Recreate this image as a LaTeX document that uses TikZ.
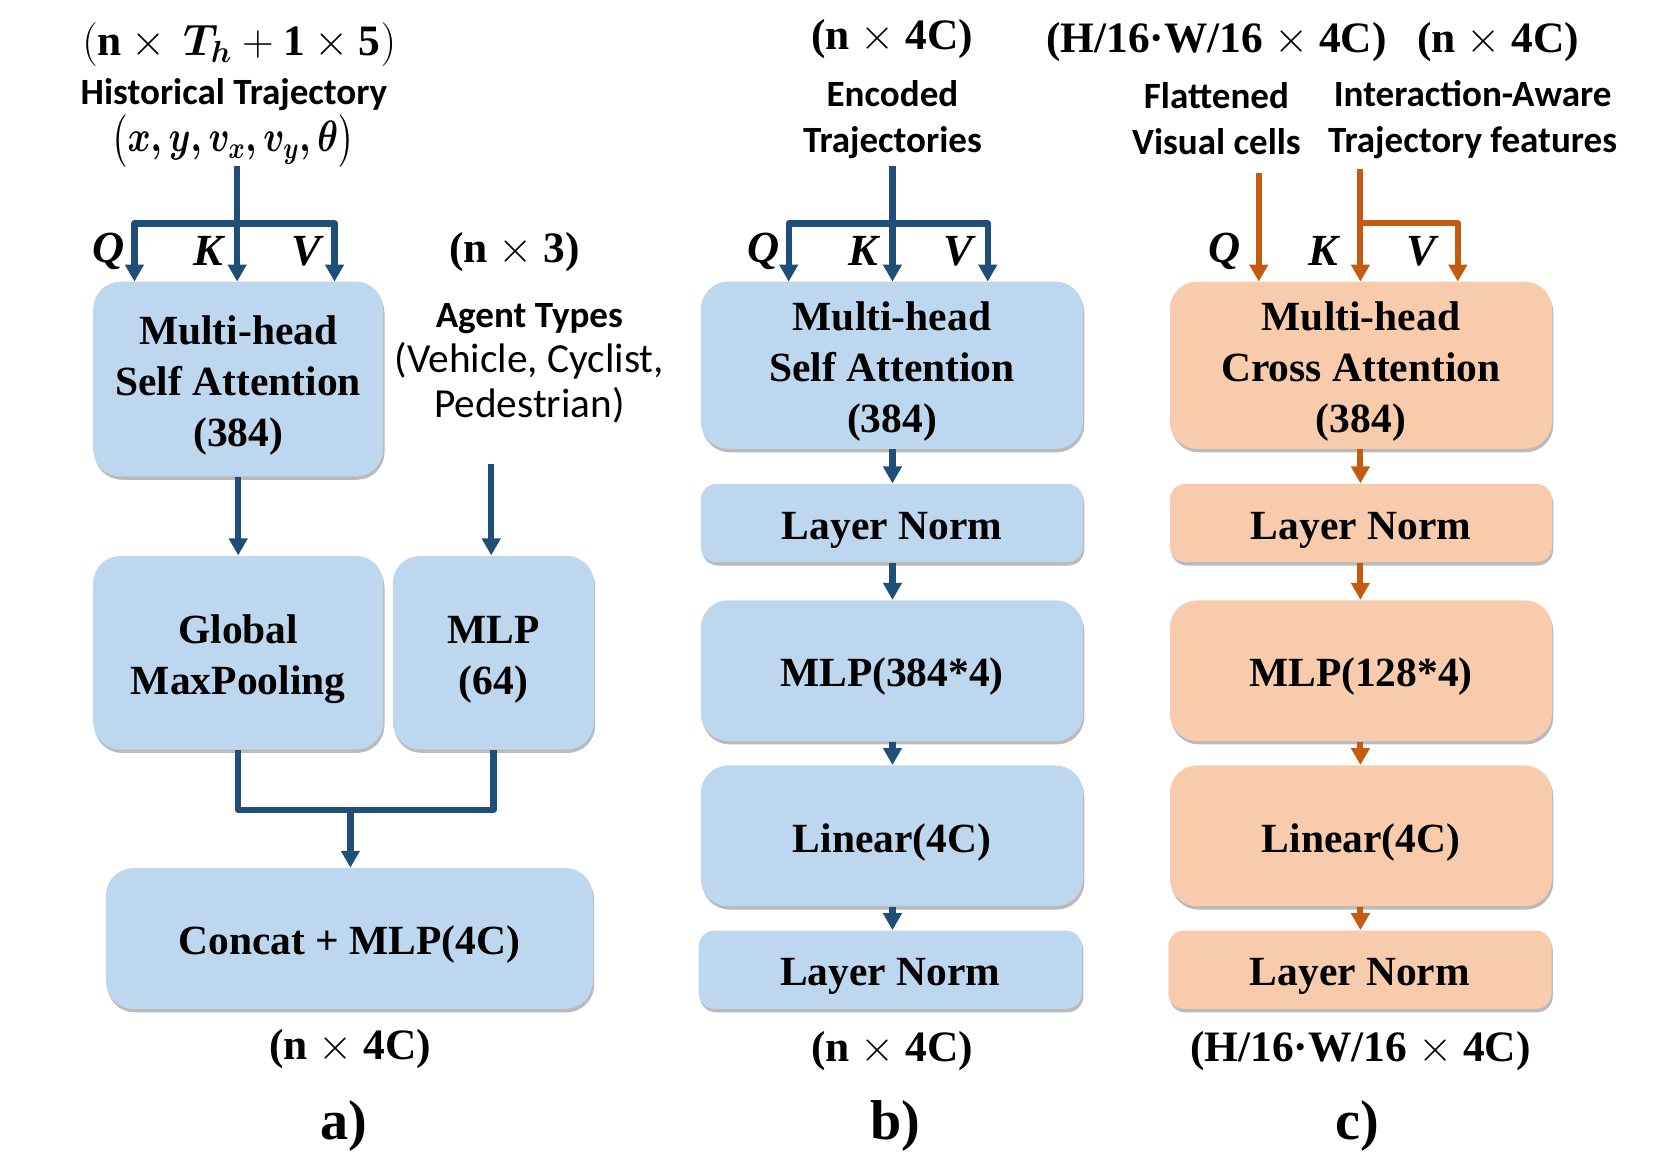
\documentclass[tikz,border=0pt]{standalone}
\usepackage{amsmath}
\usepackage{fontspec}
\setmainfont{Liberation Serif}
\newfontfamily\calib{Carlito}
\usetikzlibrary{arrows.meta,shadows}
\definecolor{bfill}{HTML}{BDD7EE}
\definecolor{ofill}{HTML}{F8CBAD}
\definecolor{bdark}{HTML}{1F4E79}
\definecolor{odark}{HTML}{C55A11}
\newcommand{\dimtxt}{$(\mathbf{n}\times\,\boldsymbol{T_h}+\mathbf{1}\times\mathbf{5})$}
\newcommand{\statetxt}{$\boldsymbol{\bigl(x, y, v_x, v_y, \theta\bigr)}$}
\newcommand{\tm}{$\times$}
\newcommand{\fs}{\rule{0pt}{19.5pt}}
\begin{document}
\begin{tikzpicture}[x=0.5pt,y=-0.5pt,
  box/.style={rounded corners=13pt, align=center, inner sep=0pt,
    font=\fontsize{19.6}{24}\selectfont\bfseries,
    execute at begin node={\fs},
    drop shadow={shadow xshift=0.6pt,shadow yshift=-1.6pt,fill=black!45,opacity=0.6}},
  bbox/.style={box, fill=bfill},
  obox/.style={box, fill=ofill},
  smallr/.style={rounded corners=7.5pt},
  dimlab/.style={font=\fontsize{20.5}{24}\selectfont\bfseries, inner sep=0pt},
  sublab/.style={font=\fontsize{26.5}{30}\selectfont\bfseries, inner sep=0pt},
  callab/.style={font=\calib\fontsize{17.5}{21.5}\selectfont\bfseries, align=center, inner sep=0pt},
  qkv/.style={font=\fontsize{21}{24}\selectfont\bfseries\itshape, inner sep=0pt},
  bln/.style={draw=bdark, line width=3pt, line join=round},
  barr/.style={bln, -{Triangle[length=8pt,width=8.5pt]}},
  oln/.style={draw=odark, line width=2.8pt, line join=round},
  oarr/.style={oln, -{Triangle[length=8pt,width=8.5pt]}}
]
\path[use as bounding box] (0,0) rectangle (1568,1092);

% column a
\node[dimlab] (adim) at (226,42) {\dimtxt};
\node[callab] (ahist) at (221,89) {Historical Trajectory};
\node[inner sep=0pt, font=\fontsize{20}{24}\selectfont, xscale=0.8, transform shape] (astate) at (220,133) {\statetxt};
\node[bbox, minimum width=137pt, minimum height=92pt] (a1) at (225,358) {\fs Multi-head\\Self Attention\\(384)};
\node[dimlab] (adim3) at (486,238) {(n \tm{} 3)};
\node[callab, font=\calib\fontsize{19.5}{21.3}\selectfont] (agent) at (500,343) {{\fontsize{17.5}{21.3}\selectfont\bfseries Agent Types}\\(Vehicle, Cyclist,\\Pedestrian)};
\node[bbox, minimum width=137pt, minimum height=91.5pt] (gmp) at (225,616.5) {\fs Global\\MaxPooling};
\node[bbox, minimum width=95pt, minimum height=91.5pt] (mlpa) at (466,616.5) {\fs MLP\\(64)};
\node[bbox, minimum width=230pt, minimum height=66.5pt] (concat) at (330,886.5) {Concat + MLP(4C)};
\node[dimlab] (aout) at (331,991) {(n \tm{} 4C)};
\node[sublab] (alab) at (325,1064) {a)};

\node[qkv] (aQ) at (103,237) {Q};
\node[qkv] (aK) at (197,237) {K};
\node[qkv] (aV) at (289,237) {V};

\coordinate (a-in) at (224,157);
\coordinate (a-bar) at (224,211);
\coordinate (a-q) at (127,266);
\coordinate (a-k) at (224,266);
\coordinate (a-v) at (316,266);
\draw[bln] (a-in) -- (a-bar);
\draw[barr] (a-bar) -| (a-q);
\draw[barr] (a-bar) -| (a-v);
\draw[barr] (a-bar) -- (a-k);

\coordinate (ag-in) at (464,438);
\draw[barr] (ag-in) -- (mlpa.north -| ag-in);
\draw[barr] (a1.south) -- (gmp.north);

\coordinate (a-merge) at (331,765);
\draw[bln] (gmp.south) -- (gmp.south |- a-merge) -- (mlpa.south |- a-merge) -- (mlpa.south);
\draw[barr] (a-merge) -- (concat.north -| a-merge);

% column b
\node[dimlab] (bdim) at (843,37) {(n \tm{} 4C)};
\node[callab] (benc) at (843,113) {Encoded\\Trajectories};
\node[bbox, minimum width=180.5pt, minimum height=79pt] (b1) at (842.5,345) {\fs Multi-head\\Self Attention\\(384)};
\node[bbox, smallr, minimum width=180.5pt, minimum height=37pt] (b2) at (842.5,494) {Layer Norm};
\node[bbox, minimum width=180.5pt, minimum height=66.5pt] (b3) at (842.5,633.5) {MLP(384*4)};
\node[bbox, minimum width=180.5pt, minimum height=66.5pt] (b4) at (842.5,789.5) {Linear(4C)};
\node[bbox, smallr, minimum width=181pt, minimum height=37pt] (b5) at (841,916) {Layer Norm};
\node[dimlab] (bout) at (843,993) {(n \tm{} 4C)};
\node[sublab] (blab) at (846,1064) {b)};

\node[qkv] (bQ) at (721,237) {Q};
\node[qkv] (bK) at (815,237) {K};
\node[qkv] (bV) at (905,237) {V};

\coordinate (b-in) at (843,157);
\coordinate (b-bar) at (843,211);
\coordinate (b-q) at (745,266);
\coordinate (b-k) at (843,266);
\coordinate (b-v) at (933,266);
\draw[bln] (b-in) -- (b-bar);
\draw[barr] (b-bar) -| (b-q);
\draw[barr] (b-bar) -| (b-v);
\draw[barr] (b-bar) -- (b-k);

\draw[barr] (b1.south -| b-k) -- (b2.north -| b-k);
\draw[barr] (b2.south -| b-k) -- (b3.north -| b-k);
\draw[barr] (b3.south -| b-k) -- (b4.north -| b-k);
\draw[barr] (b4.south -| b-k) -- (b5.north -| b-k);

% column c
\node[dimlab] (cdim1) at (1149,40) {(H/16·W/16 \tm{} 4C)};
\node[dimlab] (cdim2) at (1415,40) {(n \tm{} 4C)};
\node[callab] (cflat) at (1149,112) {Flattened\\Visual cells};
\node[callab] (cint) at (1391,113) {Interaction-Aware\\Trajectory features};
\node[obox, minimum width=180.5pt, minimum height=79pt] (c1) at (1285.5,345) {\fs Multi-head\\Cross Attention\\(384)};
\node[obox, smallr, minimum width=180.5pt, minimum height=37pt] (c2) at (1285.5,494) {Layer Norm};
\node[obox, minimum width=180.5pt, minimum height=66.5pt] (c3) at (1285.5,633.5) {MLP(128*4)};
\node[obox, minimum width=180.5pt, minimum height=66.5pt] (c4) at (1285.5,789.5) {Linear(4C)};
\node[obox, smallr, minimum width=181pt, minimum height=37pt] (c5) at (1284.5,916) {Layer Norm};
\node[dimlab] (cout) at (1285,993) {(H/16·W/16 \tm{} 4C)};
\node[sublab] (clab) at (1282,1064) {c)};

\node[qkv] (cQ) at (1157,237) {Q};
\node[qkv] (cK) at (1250,237) {K};
\node[qkv] (cV) at (1343,237) {V};

\coordinate (c-qin) at (1189,163);
\coordinate (c-q) at (1189,266);
\coordinate (c-kin) at (1285,160);
\coordinate (c-bar) at (1285,211);
\coordinate (c-k) at (1285,266);
\coordinate (c-v) at (1377,266);
\draw[oarr] (c-qin) -- (c-q);
\draw[oarr] (c-kin) -- (c-k);
\draw[oarr] (c-bar) -| (c-v);

\draw[oarr] (c1.south -| c-k) -- (c2.north -| c-k);
\draw[oarr] (c2.south -| c-k) -- (c3.north -| c-k);
\draw[oarr] (c3.south -| c-k) -- (c4.north -| c-k);
\draw[oarr] (c4.south -| c-k) -- (c5.north -| c-k);
\end{tikzpicture}
\end{document}
